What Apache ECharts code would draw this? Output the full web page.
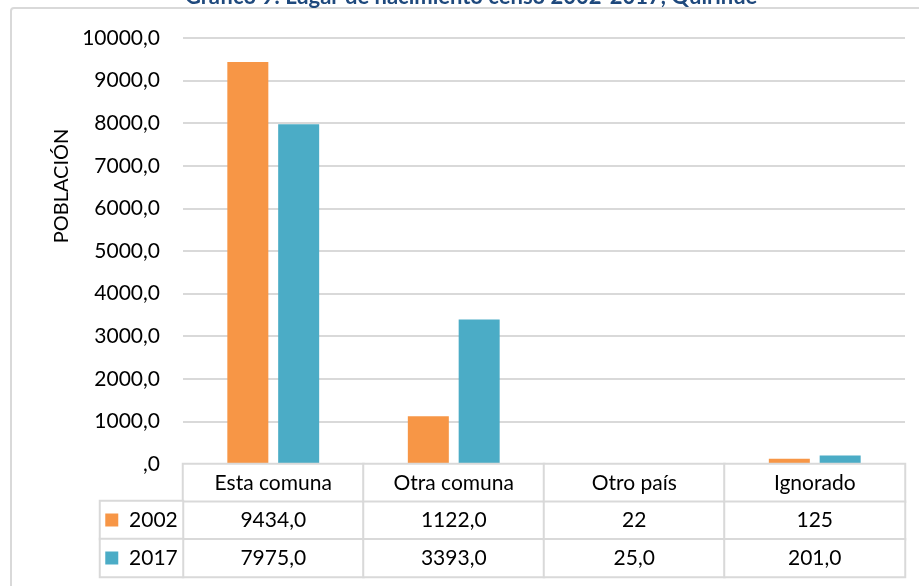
<!DOCTYPE html>
<html>
<head>
<meta charset="utf-8">
<script src="https://cdn.jsdelivr.net/npm/echarts@6/dist/echarts.min.js"></script>
<style>
  html, body { margin: 0; padding: 0; background: #fff; }
  #chart { width: 919px; height: 586px; }
</style>
</head>
<body>
<div id="chart"></div>
<script>
// --- datos ---
const categories = ["Esta comuna", "Otra comuna", "Otro país", "Ignorado"];
const years = ["2002", "2017"];
const values2002 = [9434, 1122, 22, 125];
const values2017 = [7975, 3393, 25, 201];
// decimales que muestra la tabla en cada celda
const decimals2002 = [1, 1, 0, 0];
const decimals2017 = [1, 1, 1, 1];
const yMin = 0;
const yMax = 10000;
const yStep = 1000;

const colors = ["#F79646", "#4BACC6"];
const font = "Lato, 'Open Sans', sans-serif";
const border = "#d9d9d9";

// formato tipo Excel: coma decimal, sin cero inicial (0 -> ",0")
function fmt(v, d) {
  if (!d) return String(v);
  return v.toFixed(d).replace(".", ",").replace(/^0(?=,)/, "");
}

const seriesValues = [values2002, values2017];
const seriesDecimals = [decimals2002, decimals2017];

// celdas de la tabla: fila 0 = encabezado, filas 1-2 = años
const tableCells = [];
categories.forEach((c, i) => {
  tableCells.push([i, 0, 0]);
  seriesValues.forEach((vals, s) => tableCells.push([i, s + 1, vals[i]]));
});
const legendCells = years.map((y, s) => [0, s, 0]);

const chart = echarts.init(document.getElementById("chart"));

const option = {
  backgroundColor: "#fff",
  animation: false,
  textStyle: { fontFamily: font },
  title: {
    text: "Gráfico 9: Lugar de nacimiento censo 2002-2017, Quirihue",
    left: 180,
    top: -19,
    textStyle: { color: "#1F497D", fontSize: 22, fontWeight: "bold", fontFamily: font },
  },
  graphic: [
    {
      type: "rect",
      shape: { x: 11, y: 8, width: 1000, height: 1000, r: 3 },
      style: { fill: null, stroke: border, lineWidth: 2 },
      silent: true,
      z: -1,
    },
    {
      type: "text",
      x: 62,
      y: 186,
      rotation: Math.PI / 2,
      style: {
        text: "POBLACIÓN",
        fill: "#000",
        font: "20px " + font,
        align: "center",
        verticalAlign: "middle",
      },
    },
  ],
  grid: [
    { left: 183, right: 14, top: 38, height: 426 },
    { left: 183, right: 14, top: 464, height: 113 },
    { left: 100, width: 83, top: 501, height: 76 },
  ],
  xAxis: [
    {
      gridIndex: 0,
      type: "category",
      data: categories,
      axisLine: { show: false },
      axisTick: { show: false },
      axisLabel: { show: false },
    },
    {
      gridIndex: 1,
      type: "category",
      data: categories,
      show: false,
    },
    {
      gridIndex: 2,
      type: "category",
      data: ["leyenda"],
      show: false,
    },
  ],
  yAxis: [
    {
      gridIndex: 0,
      type: "value",
      min: yMin,
      max: yMax,
      interval: yStep,
      axisLine: { show: false },
      axisTick: { show: false },
      axisLabel: {
        color: "#000",
        fontSize: 21,
        fontFamily: font,
        margin: 23,
        formatter: (v) => fmt(v, 1),
      },
      splitLine: { lineStyle: { color: border, width: 2 } },
    },
    {
      gridIndex: 1,
      type: "category",
      data: [""].concat(years),
      inverse: true,
      show: false,
    },
    {
      gridIndex: 2,
      type: "category",
      data: years,
      inverse: true,
      show: false,
    },
  ],
  series: [
    {
      name: years[0],
      type: "bar",
      xAxisIndex: 0,
      yAxisIndex: 0,
      data: values2002,
      barWidth: 41,
      barGap: "24%",
      itemStyle: { color: colors[0] },
    },
    {
      name: years[1],
      type: "bar",
      xAxisIndex: 0,
      yAxisIndex: 0,
      data: values2017,
      barWidth: 41,
      barGap: "24%",
      itemStyle: { color: colors[1] },
    },
    {
      // tabla de datos
      type: "heatmap",
      xAxisIndex: 1,
      yAxisIndex: 1,
      z: 5,
      data: tableCells,
      itemStyle: { color: "#fff", borderColor: border, borderWidth: 2 },
      emphasis: { disabled: true },
      label: {
        show: true,
        color: "#000",
        fontSize: 21,
        fontFamily: font,
        formatter: (p) => {
          const [i, row] = p.data;
          if (row === 0) return categories[i];
          return fmt(seriesValues[row - 1][i], seriesDecimals[row - 1][i]);
        },
      },
    },
    {
      // columna de leyenda de la tabla
      type: "heatmap",
      xAxisIndex: 2,
      yAxisIndex: 2,
      z: 5,
      data: legendCells,
      itemStyle: { color: "#fff", borderColor: border, borderWidth: 2 },
      emphasis: { disabled: true },
      label: {
        show: true,
        color: "#000",
        fontSize: 21,
        fontFamily: font,
        formatter: (p) => "{s" + p.data[1] + "|}  " + years[p.data[1]],
        rich: {
          s0: { backgroundColor: colors[0], width: 13, height: 13 },
          s1: { backgroundColor: colors[1], width: 13, height: 13 },
        },
      },
    },
  ],
};

chart.setOption(option);
</script>
</body>
</html>
